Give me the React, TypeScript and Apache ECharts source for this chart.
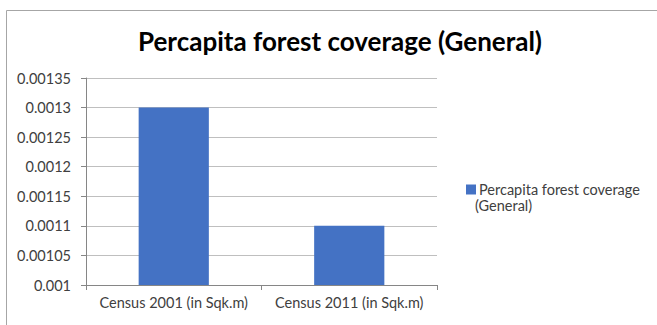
import React, { useEffect, useRef } from "react";
import * as echarts from "echarts";

const categories = ["Census 2001 (in Sqk.m)", "Census 2011 (in Sqk.m)"];
const seriesName = "Percapita forest coverage (General)";
const legendLine1 = "Percapita forest coverage";
const legendLine2 = "(General)";
const values = [0.0013, 0.0011];
const yTickLabels = ["0.001", "0.00105", "0.0011", "0.00115", "0.0012", "0.00125", "0.0013", "0.00135"];
const yMin = 0.001;
const yMax = 0.00135;
const yStep = 0.00005;

const FONT = "Lato, 'Open Sans', sans-serif";

export default function App() {
  const ref = useRef<HTMLDivElement>(null);
  useEffect(() => {
    if (!ref.current) return;
    const chart = echarts.init(ref.current, undefined, { renderer: "svg" });
    chart.setOption({
      animation: false,
      backgroundColor: "#ffffff",
      title: {
        text: "Percapita forest coverage (General)",
        left: 335,
        textAlign: "center",
        top: 23,
        textStyle: { fontFamily: FONT, fontSize: 26, fontWeight: "bold", color: "#000000" },
      },
      legend: {
        left: 461,
        top: 177,
        itemWidth: 10,
        itemHeight: 10,
        icon: "rect",
        data: [seriesName],
        formatter: () => legendLine1,
        textStyle: {
          fontFamily: FONT,
          fontSize: 14.5,
          color: "#404040",
          padding: [0, 0, 0, -2],
        },
      },
      grid: { left: 86, right: 220, top: 78, bottom: 40, containLabel: false },
      xAxis: {
        type: "category",
        data: categories,
        axisLine: { lineStyle: { color: "#868686", width: 1 } },
        axisTick: { show: true, length: 5, alignWithLabel: false, lineStyle: { color: "#868686" } },
        axisLabel: {
          fontFamily: FONT,
          fontSize: 14.5,
          color: "#404040",
          margin: 10,
          interval: 0,
          hideOverlap: false,
        },
      },
      yAxis: {
        type: "value",
        min: yMin,
        max: yMax,
        interval: yStep,
        axisLine: { show: true, lineStyle: { color: "#868686", width: 1 } },
        axisTick: { show: true, length: 5, lineStyle: { color: "#868686" } },
        splitLine: { show: true, lineStyle: { color: "#bfbfbf", width: 1 } },
        axisLabel: {
          fontFamily: FONT,
          fontSize: 14.5,
          color: "#404040",
          margin: 15,
          formatter: (v: number) => yTickLabels[Math.round((v - yMin) / yStep)] ?? "",
        },
      },
      series: [
        {
          name: seriesName,
          type: "bar",
          data: values,
          barWidth: "40%",
          itemStyle: { color: "#4472C4" },
        },
      ],
      graphic: [
        {
          type: "rect",
          shape: { x: 6.5, y: 10.5, width: 700, height: 400 },
          style: { fill: "none", stroke: "#a6a6a6", lineWidth: 1 },
          silent: true,
          z: -1,
        },
        {
          type: "text",
          x: 475,
          y: 205,
          style: {
            text: legendLine2,
            font: "14.5px " + FONT,
            fill: "#404040",
            verticalAlign: "middle",
          },
          silent: true,
        },
      ],
    });
    return () => chart.dispose();
  }, []);
  return (
    <div
      ref={ref}
      style={{ position: "fixed", left: 0, top: 0, width: 657, height: 325 }}
    />
  );
}
